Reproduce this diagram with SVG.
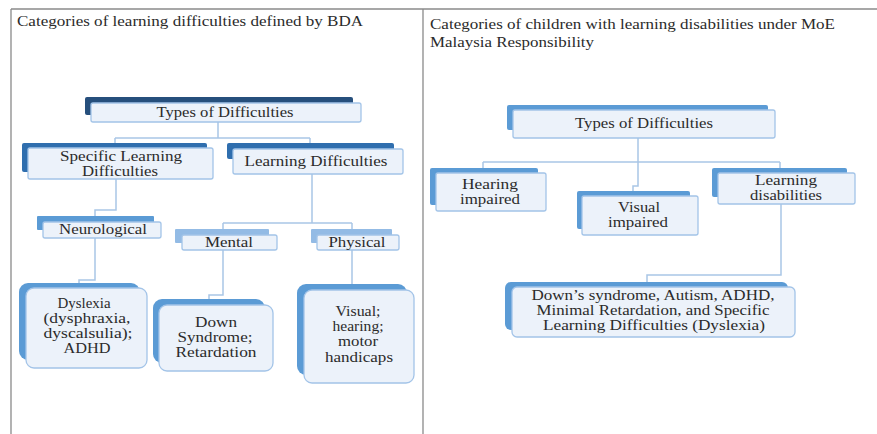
<svg xmlns="http://www.w3.org/2000/svg" width="877" height="434" viewBox="0 0 877 434">
<style>
text{font-family:"Liberation Serif","Times New Roman",serif;font-size:15px;fill:#2b2b2b}
.t{font-size:14px}
.s{font-size:14px}
.m{text-anchor:middle}
.front{fill:#ECF2FA;stroke:#A3C4E8;stroke-width:1.3}
.d1{fill:#264F7C}
.d2{fill:#2F6EAE}
.d3{fill:#5B9BD5}
.d4{fill:#93BBE5}
.conn{fill:none;stroke:#A9C6E6;stroke-width:1.5}
.grid{stroke:#8a8a8a;stroke-width:1.3;fill:none}
</style>
<rect width="877" height="434" fill="#ffffff"/>
<g id="table">
<path class="grid" d="M11,9 H877 M11,9 V434 M423,9 V434"/>
<text class="t" x="17" y="26" textLength="346" lengthAdjust="spacingAndGlyphs">Categories of learning difficulties defined by BDA</text>
<text class="t" x="430" y="29" textLength="405" lengthAdjust="spacingAndGlyphs">Categories of children with learning disabilities under MoE</text>
<text class="t" x="430" y="47" textLength="164" lengthAdjust="spacingAndGlyphs">Malaysia Responsibility</text>
</g>
<g id="connectors">
<path class="conn" d="M218,122 V138 M115,138 H310 M115,138 V148 M310,138 V149"/>
<path class="conn" d="M116,179 V210 H95 V222"/>
<path class="conn" d="M95,238 V280 H79 V288"/>
<path class="conn" d="M312,174 V223 M223,223 H352 M223,223 V235 M352,223 V235"/>
<path class="conn" d="M223,250 V295 H209 V305"/>
<path class="conn" d="M352,250 V290"/>
<path class="conn" d="M638,138 V162 M483,162 H780 M483,162 V173 M780,162 V173 M638,162 V186 H633 V196"/>
<path class="conn" d="M781,204 V275 H647 V287"/>
</g>
<g id="n-types-left">
<rect class="d1" x="85" y="97" width="268" height="18" rx="2"/>
<rect class="front" x="91" y="103" width="270" height="19" rx="2"/>
<text class="m" x="225" y="117" textLength="137" lengthAdjust="spacingAndGlyphs">Types of Difficulties</text>
</g>
<g id="n-sld">
<rect class="d2" x="22" y="143" width="185" height="29" rx="2"/>
<rect class="front" x="28" y="148" width="185" height="31" rx="2"/>
<text class="m s" x="121" y="161" textLength="122" lengthAdjust="spacingAndGlyphs">Specific Learning</text>
<text class="m s" x="120" y="176" textLength="76" lengthAdjust="spacingAndGlyphs">Difficulties</text>
</g>
<g id="n-ld">
<rect class="d2" x="227" y="143" width="167" height="16" rx="2"/>
<rect class="front" x="233" y="149" width="170" height="25" rx="2"/>
<text class="m" x="316" y="166" textLength="143" lengthAdjust="spacingAndGlyphs">Learning Difficulties</text>
</g>
<g id="n-neuro">
<rect class="d3" x="37" y="216" width="117" height="14" rx="1"/>
<rect class="front" x="43" y="222" width="118" height="16" rx="2"/>
<text class="m" x="103" y="234" textLength="88" lengthAdjust="spacingAndGlyphs">Neurological</text>
</g>
<g id="n-mental">
<rect class="d4" x="175" y="229" width="94" height="14" rx="1"/>
<rect class="front" x="182" y="235" width="95" height="15" rx="2"/>
<text class="m" x="229" y="247" textLength="48" lengthAdjust="spacingAndGlyphs">Mental</text>
</g>
<g id="n-physical">
<rect class="d4" x="311" y="229" width="81" height="14" rx="1"/>
<rect class="front" x="317" y="235" width="82" height="15" rx="2"/>
<text class="m" x="357" y="247" textLength="57" lengthAdjust="spacingAndGlyphs">Physical</text>
</g>
<g id="n-dyslexia">
<rect class="d3" x="19" y="283" width="121" height="77" rx="9"/>
<rect class="front" x="26" y="288" width="121" height="80" rx="8"/>
<text class="m" x="84" y="308" textLength="53" lengthAdjust="spacingAndGlyphs">Dyslexia</text>
<text class="m" x="87" y="323" textLength="87" lengthAdjust="spacingAndGlyphs">(dysphraxia,</text>
<text class="m" x="88" y="338" textLength="89" lengthAdjust="spacingAndGlyphs">dyscalsulia);</text>
<text class="m" x="87" y="353" textLength="47" lengthAdjust="spacingAndGlyphs">ADHD</text>
</g>
<g id="n-down">
<rect class="d3" x="153" y="299" width="112" height="64" rx="9"/>
<rect class="front" x="159" y="305" width="114" height="66" rx="8"/>
<text class="m" x="216" y="327" textLength="42" lengthAdjust="spacingAndGlyphs">Down</text>
<text class="m" x="215" y="342" textLength="75" lengthAdjust="spacingAndGlyphs">Syndrome;</text>
<text class="m" x="216" y="357" textLength="81" lengthAdjust="spacingAndGlyphs">Retardation</text>
</g>
<g id="n-visual">
<rect class="d3" x="297" y="284" width="110" height="91" rx="9"/>
<rect class="front" x="304" y="290" width="110" height="93" rx="8"/>
<text class="m" x="358" y="316" textLength="45" lengthAdjust="spacingAndGlyphs">Visual;</text>
<text class="m" x="358" y="331" textLength="51" lengthAdjust="spacingAndGlyphs">hearing;</text>
<text class="m" x="358" y="346" textLength="40" lengthAdjust="spacingAndGlyphs">motor</text>
<text class="m" x="359" y="362" textLength="68" lengthAdjust="spacingAndGlyphs">handicaps</text>
</g>
<g id="n-types-right">
<rect class="d3" x="507" y="105" width="261" height="25" rx="2"/>
<rect class="front" x="513" y="110" width="262" height="28" rx="2"/>
<text class="m" x="644" y="128" textLength="138" lengthAdjust="spacingAndGlyphs">Types of Difficulties</text>
</g>
<g id="n-hearing">
<rect class="d3" x="430" y="168" width="108" height="37" rx="2"/>
<rect class="front" x="436" y="173" width="110" height="38" rx="2"/>
<text class="m s" x="490" y="189" textLength="56" lengthAdjust="spacingAndGlyphs">Hearing</text>
<text class="m s" x="490" y="204" textLength="60" lengthAdjust="spacingAndGlyphs">impaired</text>
</g>
<g id="n-visimp">
<rect class="d3" x="577" y="191" width="113" height="38" rx="2"/>
<rect class="front" x="582" y="196" width="116" height="39" rx="2"/>
<text class="m s" x="639" y="212" textLength="42" lengthAdjust="spacingAndGlyphs">Visual</text>
<text class="m s" x="638" y="227" textLength="60" lengthAdjust="spacingAndGlyphs">impaired</text>
</g>
<g id="n-lds">
<rect class="d3" x="712" y="168" width="135" height="29" rx="2"/>
<rect class="front" x="718" y="173" width="137" height="31" rx="2"/>
<text class="m s" x="786" y="185" textLength="62" lengthAdjust="spacingAndGlyphs">Learning</text>
<text class="m s" x="786" y="200" textLength="72" lengthAdjust="spacingAndGlyphs">disabilities</text>
</g>
<g id="n-downs">
<rect class="d3" x="505" y="282" width="283" height="48" rx="6"/>
<rect class="front" x="512" y="287" width="283" height="50" rx="5"/>
<text class="m s" x="653" y="300" textLength="243" lengthAdjust="spacingAndGlyphs">Down’s syndrome, Autism, ADHD,</text>
<text class="m s" x="653" y="315" textLength="233" lengthAdjust="spacingAndGlyphs">Minimal Retardation, and Specific</text>
<text class="m s" x="654" y="330" textLength="222" lengthAdjust="spacingAndGlyphs">Learning Difficulties (Dyslexia)</text>
</g>
</svg>
